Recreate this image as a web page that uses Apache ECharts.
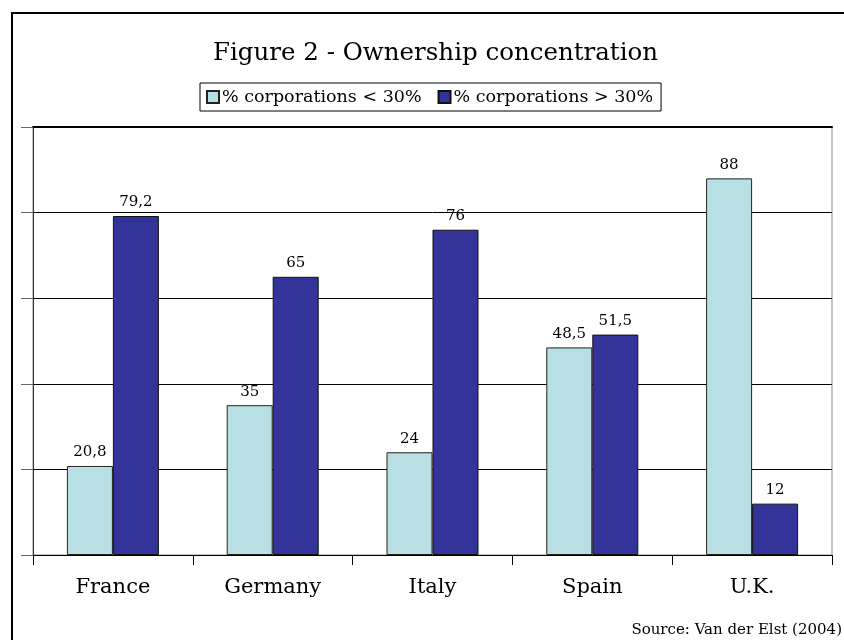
<!DOCTYPE html>
<html><head><meta charset="utf-8">
<script src="https://cdn.jsdelivr.net/npm/echarts@6/dist/echarts.min.js"></script>
<style>html,body{margin:0;padding:0;background:#fff}#c{width:844px;height:640px}</style>
</head><body><div id="c"></div>
<script>
var categories = ['France', 'Germany', 'Italy', 'Spain', 'U.K.'];
var seriesNames = ['% corporations < 30%', '% corporations > 30%'];
var below30 = [20.8, 35, 24, 48.5, 88];
var above30 = [79.2, 65, 76, 51.5, 12];
var titleText = 'Figure 2 - Ownership concentration';
var sourceText = 'Source: Van der Elst (2004)';

var FONT = 'DejaVu Serif';
function fmt(p){ return String(p.value).replace('.', ','); }
var chart = echarts.init(document.getElementById('c'), null, {renderer:'canvas'});
chart.setOption({
  backgroundColor:'#fff',
  animation:false,
  title:{text:titleText, left:208, top:36, textStyle:{fontFamily:FONT, fontWeight:'normal', fontSize:24.5, color:'#000'}},
  legend:{top:83, left:200, data:seriesNames, itemWidth:12, itemHeight:12, itemGap:16,
    borderColor:'#000', borderWidth:1, padding:[5,8,5,6], borderRadius:0,
    icon:'rect', textStyle:{fontFamily:FONT, fontSize:17.5, color:'#000', padding:[0,0,0,-2]}},
  grid:{left:33, right:12, top:127, bottom:85, show:true, borderColor:'#888', borderWidth:1},
  xAxis:[{type:'category', data:categories, position:'bottom',
    axisLine:{lineStyle:{color:'#000', width:1}},
    axisTick:{show:true, length:10, lineStyle:{color:'#000'}},
    axisLabel:{fontFamily:FONT, fontSize:21, color:'#000', margin:22}},
   {type:'category', data:categories, position:'top',
    axisLine:{lineStyle:{color:'#000', width:2}}, axisTick:{show:false}, axisLabel:{show:false}}],
  yAxis:{type:'value', min:0, max:100, interval:20,
    axisLine:{show:true, lineStyle:{color:'#333'}},
    axisTick:{show:true, inside:false, length:12, lineStyle:{color:'#666'}},
    axisLabel:{show:false},
    splitLine:{show:true, lineStyle:{color:'#000', width:1}}},
  series:[
    {name:seriesNames[0], type:'bar', data:below30, barWidth:46, barGap:'0%',
     itemStyle:{color:'#B8DFE3', borderColor:'#222', borderWidth:1},
     label:{show:true, position:'top', distance:6, formatter:fmt, fontFamily:FONT, fontSize:15, color:'#000'}},
    {name:seriesNames[1], type:'bar', data:above30, barWidth:46, barGap:'0%',
     itemStyle:{color:'#333399', borderColor:'#111', borderWidth:1},
     label:{show:true, position:'top', distance:6, formatter:fmt, fontFamily:FONT, fontSize:15, color:'#000'}}
  ],
  graphic:[
    {type:'rect', shape:{x:12, y:13, width:900, height:700}, style:{fill:null, stroke:'#000', lineWidth:2}, silent:true},
    {type:'text', right:2, top:623, style:{text:sourceText, fontFamily:FONT, fontSize:15, fill:'#000'}}
  ]
});
</script></body></html>
